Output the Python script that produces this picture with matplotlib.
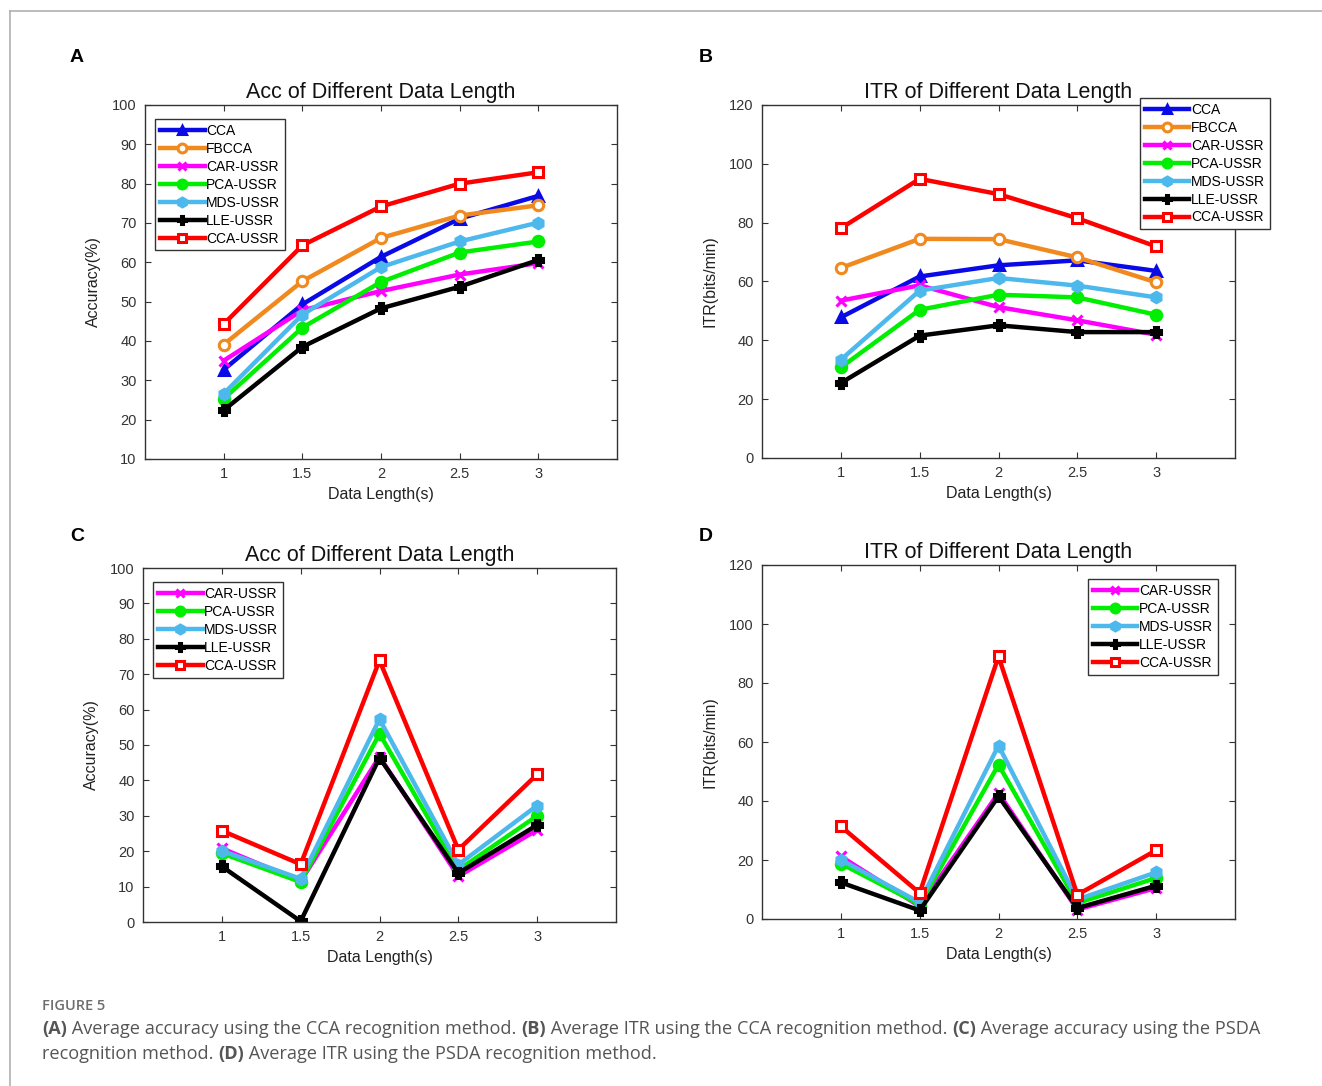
import matplotlib
matplotlib.use('Agg')
import matplotlib.pyplot as plt
from matplotlib.lines import Line2D

plt.rcParams['font.family'] = ['Liberation Sans', 'DejaVu Sans']

x = [1, 1.5, 2, 2.5, 3]

# (A) accuracy, CCA recognition
cca_acc = [32.7, 49.3, 61.4, 71.1, 76.9]
fbcca_acc = [39.1, 55.2, 66.2, 71.9, 74.5]
car_acc = [35.0, 47.8, 52.7, 56.9, 59.8]
pca_acc = [25.3, 43.4, 55.0, 62.5, 65.3]
mds_acc = [26.6, 46.7, 58.8, 65.3, 70.1]
lle_acc = [22.4, 38.5, 48.3, 53.8, 60.6]
ccaussr_acc = [44.3, 64.3, 74.2, 80.0, 82.9]

# (B) ITR, CCA recognition
cca_itr = [47.8, 61.7, 65.5, 67.2, 63.6]
fbcca_itr = [64.6, 74.5, 74.4, 68.2, 59.7]
car_itr = [53.5, 58.7, 51.3, 46.8, 41.9]
pca_itr = [30.8, 50.4, 55.5, 54.6, 48.7]
mds_itr = [33.4, 56.9, 61.2, 58.6, 54.6]
lle_itr = [25.5, 41.6, 45.1, 42.8, 42.8]
ccaussr_itr = [78.1, 94.9, 89.7, 81.5, 71.9]

# (C) accuracy, PSDA recognition
car_psda_acc = [20.8, 11.5, 46.7, 12.9, 26.0]
pca_psda_acc = [19.4, 11.3, 53.2, 14.7, 30.0]
mds_psda_acc = [20.1, 12.2, 57.3, 16.2, 32.9]
lle_psda_acc = [15.7, 0.2, 46.4, 13.8, 27.4]
ccaussr_psda_acc = [25.8, 16.3, 73.9, 20.4, 41.7]

# (D) ITR, PSDA recognition
car_psda_itr = [21.2, 4.3, 42.7, 3.2, 10.5]
pca_psda_itr = [18.8, 4.9, 52.3, 5.4, 13.9]
mds_psda_itr = [20.1, 5.6, 58.8, 6.6, 15.8]
lle_psda_itr = [12.4, 2.9, 41.6, 3.7, 11.3]
ccaussr_psda_itr = [31.4, 8.8, 89.0, 8.2, 23.3]

styles = {
    "CCA": dict(color="#0a0ae6", marker="^", mfc="#0a0ae6"),
    "FBCCA": dict(color="#f0891e", marker="o", mfc="white"),
    "CAR-USSR": dict(color="#ff00ff", marker="x", mfc="#ff00ff"),
    "PCA-USSR": dict(color="#00ee00", marker="o", mfc="#00ee00"),
    "MDS-USSR": dict(color="#4db8ec", marker="h", mfc="#4db8ec"),
    "LLE-USSR": dict(color="black", marker="P", mfc="black"),
    "CCA-USSR": dict(color="#ff0000", marker="s", mfc="white"),
}

W, H = 1322, 1086
fig = plt.figure(figsize=(W / 100, H / 100), dpi=100)


def add_ax(l, t, r, b):
    return fig.add_axes([l / W, 1 - b / H, (r - l) / W, (b - t) / H])


def draw_panel(ax, series, title, ylabel, ylim, ystep, legend_kw):
    for name, vals in series:
        st = styles[name]
        ax.plot(x, vals, '-', color=st["color"], marker=st["marker"],
                mfc=st["mfc"], mec=st["color"], mew=2.2, ms=7.5, lw=3.2,
                label=name)
    ax.set_xlim(0.5, 3.5)
    ax.set_ylim(*ylim)
    ax.set_xticks(x)
    ax.set_xticklabels(["1", "1.5", "2", "2.5", "3"])
    ax.set_yticks(range(ylim[0], ylim[1] + 1, ystep))
    ax.tick_params(direction='in', top=True, right=True, length=4,
                   labelsize=10.5, colors="#333333", pad=6)
    for s in ax.spines.values():
        s.set_color("#333333")
        s.set_linewidth(1.0)
    ax.set_title(title, fontsize=15.5, pad=5, color="#111111")
    ax.set_xlabel("Data Length(s)", fontsize=11.5, color="#222222", labelpad=4)
    ax.set_ylabel(ylabel, fontsize=11.5, color="#222222", labelpad=8)
    leg = ax.legend(fontsize=10, handlelength=3.2, labelspacing=0.28,
                    handletextpad=0.1, borderpad=0.35, fancybox=False,
                    edgecolor="#333333", framealpha=1, borderaxespad=0.4,
                    markerscale=0.85, **legend_kw)
    leg.get_frame().set_linewidth(1.0)


axA = add_ax(145, 105, 617, 459)
draw_panel(axA, [("CCA", cca_acc), ("FBCCA", fbcca_acc), ("CAR-USSR", car_acc),
                 ("PCA-USSR", pca_acc), ("MDS-USSR", mds_acc), ("LLE-USSR", lle_acc),
                 ("CCA-USSR", ccaussr_acc)],
           "Acc of Different Data Length", "Accuracy(%)", (10, 100), 10,
           dict(loc="upper left", bbox_to_anchor=(0.01, 0.975)))

axB = add_ax(762, 105, 1235, 458)
draw_panel(axB, [("CCA", cca_itr), ("FBCCA", fbcca_itr), ("CAR-USSR", car_itr),
                 ("PCA-USSR", pca_itr), ("MDS-USSR", mds_itr), ("LLE-USSR", lle_itr),
                 ("CCA-USSR", ccaussr_itr)],
           "ITR of Different Data Length", "ITR(bits/min)", (0, 120), 20,
           dict(loc="upper right", bbox_to_anchor=(1.085, 1.035)))

axC = add_ax(143, 568, 616, 922)
draw_panel(axC, [("CAR-USSR", car_psda_acc), ("PCA-USSR", pca_psda_acc),
                 ("MDS-USSR", mds_psda_acc), ("LLE-USSR", lle_psda_acc),
                 ("CCA-USSR", ccaussr_psda_acc)],
           "Acc of Different Data Length", "Accuracy(%)", (0, 100), 10,
           dict(loc="upper left", bbox_to_anchor=(0.01, 0.975)))

axD = add_ax(762, 565, 1235, 919)
draw_panel(axD, [("CAR-USSR", car_psda_itr), ("PCA-USSR", pca_psda_itr),
                 ("MDS-USSR", mds_psda_itr), ("LLE-USSR", lle_psda_itr),
                 ("CCA-USSR", ccaussr_psda_itr)],
           "ITR of Different Data Length", "ITR(bits/min)", (0, 120), 20,
           dict(loc="upper right", bbox_to_anchor=(0.975, 0.975)))

# panel letters
for lab, px, py in [("A", 77, 58), ("B", 706, 58), ("C", 77, 536), ("D", 706, 536)]:
    fig.text(px / W, 1 - py / H, lab, fontsize=14, fontweight='bold',
             ha='center', va='center', color='black')

# outer frame (left and top edges)
fig.add_artist(Line2D([9.5 / W, 9.5 / W], [0, 1 - 11 / H], transform=fig.transFigure,
                      color="#b0b0b0", lw=1.2))
fig.add_artist(Line2D([9.5 / W, 1], [1 - 11 / H, 1 - 11 / H], transform=fig.transFigure,
                      color="#b0b0b0", lw=1.2))

# caption
cap_font = ['Open Sans', 'DejaVu Sans']
fig.text(42 / W, 1 - 1006 / H, "FIGURE 5", fontsize=10.5, fontweight='semibold',
         color="#6e6e6e", family=cap_font, va='center')

renderer = fig.canvas.get_renderer()


def rich_line(y, parts):
    xpos = 42
    for txt, bold in parts:
        t = fig.text(xpos / W, 1 - y / H, txt, fontsize=13.1, family=cap_font,
                     fontweight='bold' if bold else 'normal', color="#555555",
                     va='center')
        xpos += t.get_window_extent(renderer).width


rich_line(1029, [("(A)", True), (" Average accuracy using the CCA recognition method. ", False),
                 ("(B)", True), (" Average ITR using the CCA recognition method. ", False),
                 ("(C)", True), (" Average accuracy using the PSDA", False)])
rich_line(1054, [("recognition method. ", False), ("(D)", True),
                 (" Average ITR using the PSDA recognition method.", False)])

fig.savefig("out.png", dpi=100)
plt.close()
